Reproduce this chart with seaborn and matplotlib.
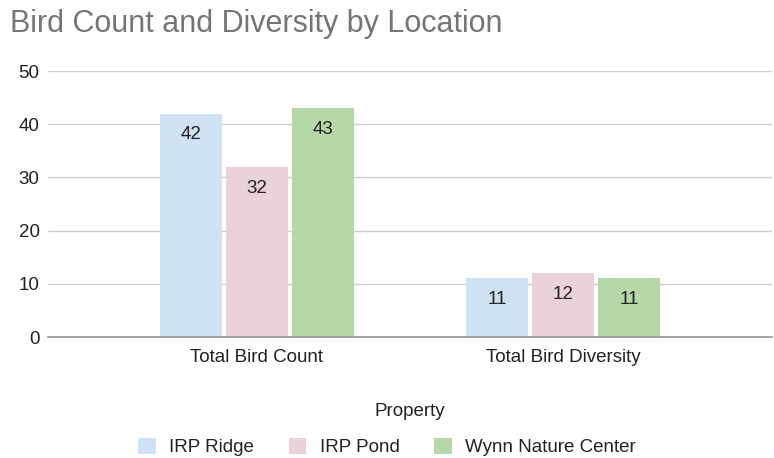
import matplotlib
matplotlib.use("Agg")
import matplotlib.pyplot as plt
import seaborn as sns
import pandas as pd
from matplotlib.patches import Patch

categories = ["Total Bird Count", "Total Bird Diversity"]
locations = ["IRP Ridge", "IRP Pond", "Wynn Nature Center"]
irp_ridge = [42, 11]
irp_pond = [32, 12]
wynn = [43, 11]
colors = ["#cfe2f3", "#ead1dc", "#b6d7a8"]

rows = []
for loc, vals in zip(locations, [irp_ridge, irp_pond, wynn]):
    for c, v in zip(categories, vals):
        rows.append({"Property": c, "Location": loc, "Value": v})
df = pd.DataFrame(rows)

sns.set_theme(style="white")
plt.rcParams["font.family"] = ["Liberation Sans", "DejaVu Sans"]

fig = plt.figure(figsize=(7.74, 4.58), dpi=100)
ax = fig.add_axes([48/774, 1-337/458, (772-48)/774, (337-71)/458])

sns.barplot(data=df, x="Property", y="Value", hue="Location", order=categories,
            hue_order=locations, palette=colors, width=0.645, gap=0.06,
            ax=ax, legend=False, saturation=1, edgecolor="none", errorbar=None)

for cont in ax.containers:
    ax.bar_label(cont, labels=[f"{int(v)}" for v in cont.datavalues],
                 padding=-21.5, fontsize=13.5, color="#222222")

ax.set_ylim(0, 50)
ax.set_xlim(-0.68, 1.68)
ax.set_yticks([0, 10, 20, 30, 40, 50])
ax.yaxis.grid(True, color="#cccccc", linewidth=1)
ax.set_axisbelow(True)
for s in ["top", "right", "left"]:
    ax.spines[s].set_visible(False)
ax.spines["bottom"].set_color("#999999")
ax.tick_params(axis="both", length=0, labelsize=13.5, labelcolor="#222222")
ax.tick_params(axis="y", pad=6)
ax.tick_params(axis="x", pad=9)
ax.set_ylabel("")
ax.set_xlabel("Property", fontsize=13.5, color="#222222", labelpad=26)

fig.text(10/774, 1-24/458, "Bird Count and Diversity by Location", fontsize=22,
         color="#757575", ha="left", va="center")

handles = [Patch(facecolor=c, edgecolor="none") for c in colors]
fig.legend(handles, locations, loc="center", bbox_to_anchor=(0.5, 1-447/458),
           ncol=3, frameon=False, fontsize=13.5, handlelength=0.95, handleheight=0.95,
           handletextpad=0.7, columnspacing=1.85, labelcolor="#222222")

fig.savefig("out.png", dpi=100)
